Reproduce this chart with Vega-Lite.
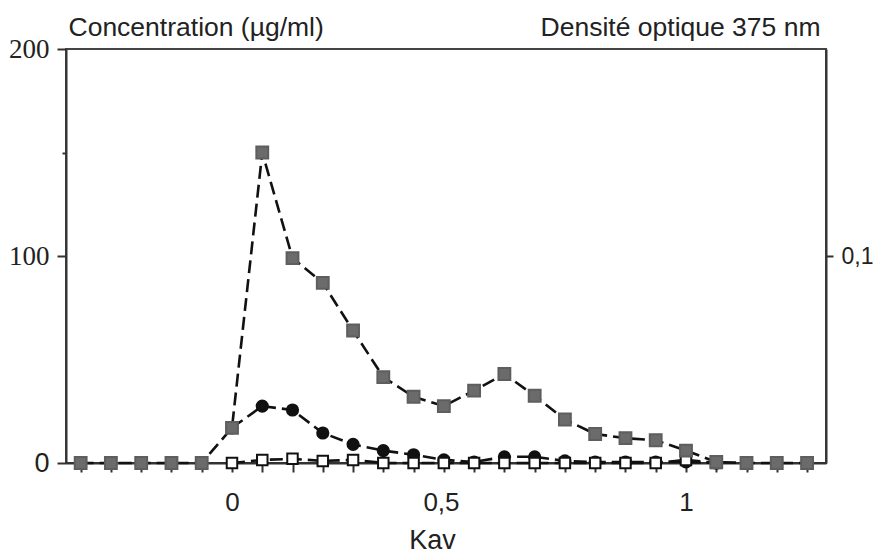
{
  "$schema": "https://vega.github.io/schema/vega-lite/v6.json",
  "width": 760,
  "height": 414,
  "autosize": "none",
  "padding": {"left": 66, "top": 49, "right": 49, "bottom": 90},
  "background": "white",
  "config": {
    "font": "Liberation Sans",
    "view": {"stroke": "#444", "strokeWidth": 2},
    "axis": {
      "grid": false,
      "domainColor": "#333",
      "domainWidth": 2,
      "tickColor": "#333",
      "tickWidth": 2,
      "labelColor": "#222",
      "titleColor": "#222",
      "titleFontWeight": "normal",
      "labelFlush": false,
      "labelOverlap": false
    }
  },
  "resolve": {"scale": {"y": "independent"}, "axis": {"y": "independent"}},
  "layer": [
    {
      "data": {"values": [{"od": 0}]},
      "mark": {"type": "rule", "color": "#333", "strokeWidth": 2},
      "encoding": {
        "y": {
          "field": "od",
          "type": "quantitative",
          "scale": {"domain": [0, 0.2], "nice": false},
          "axis": {
            "orient": "right",
            "values": [0.1],
            "labelExpr": "replace(datum.label, '.', ',')",
            "labelFontSize": 23,
            "labelPadding": 8,
            "tickSize": 7,
            "title": "Densité optique 375 nm",
            "titleFontSize": 26.5,
            "titleAngle": 0,
            "titleX": -6,
            "titleY": -14,
            "titleAlign": "right",
            "titleBaseline": "alphabetic"
          }
        }
      }
    },
    {
      "data": {
        "values": [
          {"kav": 0, "series": "B", "v": 17},
          {"kav": 0.0667, "series": "B", "v": 27.5},
          {"kav": 0.1333, "series": "B", "v": 25.6},
          {"kav": 0.2, "series": "B", "v": 14.5},
          {"kav": 0.2667, "series": "B", "v": 9},
          {"kav": 0.3333, "series": "B", "v": 6},
          {"kav": 0.4, "series": "B", "v": 4},
          {"kav": 0.4667, "series": "B", "v": 1.5},
          {"kav": 0.5333, "series": "B", "v": 0.5},
          {"kav": 0.6, "series": "B", "v": 3},
          {"kav": 0.6667, "series": "B", "v": 3},
          {"kav": 0.7333, "series": "B", "v": 1},
          {"kav": 0.8, "series": "B", "v": 0.5},
          {"kav": 0.8667, "series": "B", "v": 0.5},
          {"kav": 0.9333, "series": "B", "v": 0.5},
          {"kav": 1, "series": "B", "v": 0.5},
          {"kav": 1.0667, "series": "B", "v": 0},
          {"kav": 0, "series": "C", "v": 0},
          {"kav": 0.0667, "series": "C", "v": 1.5},
          {"kav": 0.1333, "series": "C", "v": 2},
          {"kav": 0.2, "series": "C", "v": 1},
          {"kav": 0.2667, "series": "C", "v": 1.5},
          {"kav": 0.3333, "series": "C", "v": 0},
          {"kav": 0.4, "series": "C", "v": 0},
          {"kav": 0.4667, "series": "C", "v": 0},
          {"kav": 0.5333, "series": "C", "v": 0},
          {"kav": 0.6, "series": "C", "v": 0},
          {"kav": 0.6667, "series": "C", "v": 0},
          {"kav": 0.7333, "series": "C", "v": 0},
          {"kav": 0.8, "series": "C", "v": 0},
          {"kav": 0.8667, "series": "C", "v": 0},
          {"kav": 0.9333, "series": "C", "v": 0},
          {"kav": 1, "series": "C", "v": 1.5},
          {"kav": 1.0667, "series": "C", "v": 0},
          {"kav": -0.3333, "series": "A", "v": 0},
          {"kav": -0.2667, "series": "A", "v": 0},
          {"kav": -0.2, "series": "A", "v": 0},
          {"kav": -0.1333, "series": "A", "v": 0},
          {"kav": -0.0667, "series": "A", "v": 0},
          {"kav": 0, "series": "A", "v": 17},
          {"kav": 0.0667, "series": "A", "v": 150},
          {"kav": 0.1333, "series": "A", "v": 99},
          {"kav": 0.2, "series": "A", "v": 87},
          {"kav": 0.2667, "series": "A", "v": 64},
          {"kav": 0.3333, "series": "A", "v": 41.5},
          {"kav": 0.4, "series": "A", "v": 32},
          {"kav": 0.4667, "series": "A", "v": 27.5},
          {"kav": 0.5333, "series": "A", "v": 35},
          {"kav": 0.6, "series": "A", "v": 43},
          {"kav": 0.6667, "series": "A", "v": 32.5},
          {"kav": 0.7333, "series": "A", "v": 21},
          {"kav": 0.8, "series": "A", "v": 14},
          {"kav": 0.8667, "series": "A", "v": 12},
          {"kav": 0.9333, "series": "A", "v": 11},
          {"kav": 1, "series": "A", "v": 6},
          {"kav": 1.0667, "series": "A", "v": 0.5},
          {"kav": 1.1333, "series": "A", "v": 0},
          {"kav": 1.2, "series": "A", "v": 0},
          {"kav": 1.2667, "series": "A", "v": 0}
        ]
      },
      "encoding": {
        "x": {
          "field": "kav",
          "type": "quantitative",
          "scale": {"domain": [-0.3656, 1.3084], "nice": false, "zero": false},
          "axis": {
            "values": [-0.3333, -0.2667, -0.2, -0.1333, -0.0667, 0, 0.0667, 0.1333, 0.2, 0.2667, 0.3333, 0.4, 0.4667, 0.5, 0.5333, 0.6, 0.6667, 0.7333, 0.8, 0.8667, 0.9333, 1, 1.0667, 1.1333, 1.2, 1.2667],
            "labelExpr": "datum.value == 0 ? '0' : datum.value == 0.5 ? '0,5' : datum.value == 1 ? '1' : ''",
            "tickSize": 9,
            "tickOpacity": {"condition": {"test": "datum.value == 0.5", "value": 0}, "value": 1},
            "labelOffset": {"condition": {"test": "datum.value == 0.5", "value": -18}, "value": 0},
            "labelFontSize": 26,
            "labelPadding": 17,
            "labelBaseline": "top",
            "title": "Kav",
            "titleFontSize": 27,
            "titleX": 366,
            "titleY": 85,
            "titleAlign": "center",
            "titleBaseline": "alphabetic"
          }
        },
        "y": {
          "field": "v",
          "type": "quantitative",
          "scale": {"domain": [0, 200], "nice": false},
          "axis": {
            "orient": "left",
            "values": [0, 100, 150, 200],
            "labelExpr": "datum.value == 150 ? '' : datum.label",
            "tickSize": {"condition": {"test": "datum.value == 150", "value": 4}, "value": 9},
            "labelFont": {"condition": {"test": "datum.value == 0", "value": "Liberation Sans"}, "value": "Liberation Serif"},
            "labelFontSize": 27,
            "labelPadding": 8,
            "title": "Concentration (µg/ml)",
            "titleFontSize": 26.5,
            "titleAngle": 0,
            "titleX": 2,
            "titleY": -14,
            "titleAlign": "left",
            "titleBaseline": "alphabetic"
          }
        }
      },
      "layer": [
        {
          "mark": {"type": "line", "color": "#111111", "strokeWidth": 2.6, "strokeDash": [13, 6]},
          "encoding": {"detail": {"field": "series"}}
        },
        {
          "mark": {"type": "point", "filled": false, "strokeWidth": 2, "opacity": 1},
          "encoding": {
            "shape": {"field": "series", "type": "nominal", "scale": {"domain": ["A", "B", "C"], "range": ["square", "circle", "square"]}, "legend": null},
            "fill": {"field": "series", "type": "nominal", "scale": {"domain": ["A", "B", "C"], "range": ["#6b6b6b", "#111111", "#ffffff"]}, "legend": null},
            "stroke": {"field": "series", "type": "nominal", "scale": {"domain": ["A", "B", "C"], "range": ["#5e5e5e", "#111111", "#111111"]}, "legend": null},
            "size": {"field": "series", "type": "nominal", "scale": {"domain": ["A", "B", "C"], "range": [140, 110, 75]}, "legend": null}
          }
        }
      ]
    }
  ]
}
